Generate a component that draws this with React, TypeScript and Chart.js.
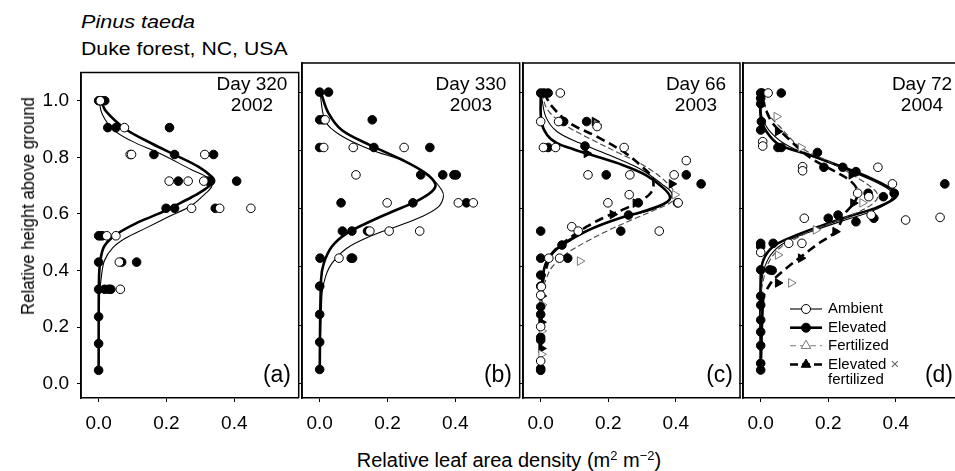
import React, { useEffect, useRef } from 'react';
import { Chart, registerables } from 'chart.js';
Chart.register(...registerables);

const FONT = '"Liberation Sans", Arial, Helvetica, sans-serif';

// ---- axes ----
const X_MIN = -0.052;
const X_MAX = 0.59;
const Y_MIN = -0.05;
const Y_MAX = 1.1;
const xTickValues = [0, 0.2, 0.4];
const yTickValues = [0, 0.2, 0.4, 0.6, 0.8, 1.0];

// ---- texts ----
const panelLabels = ['(a)', '(b)', '(c)', '(d)'];
const dayLabels = ['Day 320', 'Day 330', 'Day 66', 'Day 72'];
const yearLabels = ['2002', '2003', '2003', '2004'];
const legendLabels = ['Ambient', 'Elevated', 'Fertilized', 'Elevated', 'fertilized'];

// ---- panel (a) ----
const aAmbX = [0.005, 0.076, 0.093, 0.097, 0.313, 0.208, 0.264, 0.31, 0.274, 0.357, 0.449, 0.024, 0.051, 0.061, 0.064];
const aAmbH = [1.0, 0.905, 0.81, 0.81, 0.81, 0.716, 0.716, 0.716, 0.62, 0.62, 0.62, 0.523, 0.523, 0.43, 0.334];
const aElvX = [0, 0.01, 0.018, 0.027, 0.051, 0.209, 0.163, 0.224, 0.339, 0.235, 0.323, 0.33, 0.407, 0.199, 0.224, 0.344, 0, 0.005, 0.011, 0, 0.068, 0.112, 0, 0.018, 0.03, 0.036, 0, 0, 0];
const aElvH = [1, 1, 1, 0.905, 0.905, 0.905, 0.81, 0.81, 0.81, 0.716, 0.716, 0.716, 0.716, 0.62, 0.62, 0.62, 0.523, 0.523, 0.523, 0.43, 0.43, 0.43, 0.334, 0.334, 0.334, 0.334, 0.237, 0.142, 0.048];
const aAmbCurveX = [0.001, 0.011, 0.042, 0.095, 0.187, 0.274, 0.323, 0.334, 0.313, 0.274, 0.206, 0.139, 0.08, 0.042, 0.017, 0.008, 0.002, 0, 0];
const aAmbCurveH = [1.0, 0.951, 0.899, 0.859, 0.81, 0.756, 0.727, 0.699, 0.67, 0.63, 0.59, 0.55, 0.515, 0.481, 0.435, 0.378, 0.309, 0.2, 0.048];
const aElvCurveX = [0.008, 0.022, 0.08, 0.158, 0.226, 0.294, 0.332, 0.34, 0.313, 0.274, 0.226, 0.177, 0.11, 0.051, 0.017, 0.005, 0.001, 0];
const aElvCurveH = [0.997, 0.962, 0.899, 0.848, 0.808, 0.767, 0.733, 0.716, 0.687, 0.659, 0.63, 0.601, 0.567, 0.527, 0.487, 0.435, 0.366, 0.048];

// ---- panel (b) ----
const bAmbX = [0.016, 0.012, 0.099, 0.249, 0.107, 0.199, 0.409, 0.453, 0.148, 0.205, 0.295, 0.057];
const bAmbH = [0.905, 0.81, 0.81, 0.81, 0.716, 0.62, 0.62, 0.62, 0.523, 0.523, 0.523, 0.43];
const bElvX = [0, 0.026, 0, 0.01, 0.155, 0, 0.16, 0.325, 0.298, 0.363, 0.396, 0.403, 0.063, 0.275, 0.433, 0.067, 0.095, 0.141, 0.001, 0.093, 0.097, 0, 0, 0, 0];
const bElvH = [1, 1, 0.905, 0.905, 0.905, 0.81, 0.81, 0.81, 0.716, 0.716, 0.716, 0.716, 0.62, 0.62, 0.62, 0.523, 0.523, 0.523, 0.43, 0.43, 0.43, 0.334, 0.237, 0.142, 0.048];
const bAmbCurveX = [0.001, 0.017, 0.06, 0.147, 0.264, 0.331, 0.36, 0.365, 0.351, 0.302, 0.225, 0.147, 0.08, 0.036, 0.017, 0.007, 0];
const bAmbCurveH = [0.997, 0.899, 0.853, 0.804, 0.756, 0.704, 0.664, 0.641, 0.607, 0.573, 0.538, 0.504, 0.464, 0.412, 0.366, 0.309, 0.048];
const bElvCurveX = [0.004, 0.026, 0.065, 0.147, 0.244, 0.312, 0.341, 0.331, 0.283, 0.215, 0.147, 0.08, 0.036, 0.012, 0.004, 0];
const bElvCurveH = [0.997, 0.928, 0.87, 0.819, 0.767, 0.722, 0.685, 0.659, 0.624, 0.59, 0.555, 0.515, 0.47, 0.412, 0.355, 0.048];

// ---- panel (c) ----
const cAmbX = [0.058, 0, 0.053, 0.167, 0.008, 0.044, 0.247, 0.431, 0.14, 0.264, 0.395, 0.262, 0.199, 0.407, 0.092, 0.111, 0.351, 0.024, 0.056, 0.002, 0, 0, 0];
const cAmbH = [0.997, 0.899, 0.899, 0.882, 0.81, 0.81, 0.81, 0.765, 0.716, 0.716, 0.716, 0.648, 0.62, 0.62, 0.538, 0.523, 0.523, 0.43, 0.43, 0.332, 0.303, 0.195, 0.077];
const cElvX = [0, 0.01, 0.022, 0.068, 0.136, 0.022, 0.131, 0.194, 0.431, 0.475, 0.405, 0.289, 0.26, 0.237, 0, 0.063, 0, 0.08, 0, 0, 0, 0, 0, 0, 0, 0];
const cElvH = [0.997, 0.997, 0.997, 0.899, 0.899, 0.81, 0.815, 0.716, 0.716, 0.685, 0.62, 0.62, 0.578, 0.523, 0.523, 0.475, 0.43, 0.43, 0.372, 0.334, 0.263, 0.237, 0.158, 0.149, 0.051, 0.045];
const cFerX = [0.166, 0.397, 0.116, 0.004, 0.003, 0.002];
const cFerH = [0.888, 0.648, 0.42, 0.27, 0.18, 0.1];
const cEfX = [0.16, 0.136, 0.388, 0.281, 0.213, 0.003, 0.002, 0.002];
const cEfH = [0.899, 0.79, 0.685, 0.619, 0.58, 0.3, 0.21, 0.12];
const cAmbCurveX = [0.001, 0.015, 0.048, 0.116, 0.213, 0.3, 0.358, 0.388, 0.378, 0.329, 0.252, 0.174, 0.107, 0.058, 0.024, 0.01, 0.002, 0];
const cAmbCurveH = [0.997, 0.916, 0.865, 0.825, 0.779, 0.733, 0.685, 0.653, 0.624, 0.596, 0.573, 0.544, 0.51, 0.475, 0.435, 0.389, 0.332, 0.045];
const cElvCurveX = [0, 0.002, 0.019, 0.048, 0.097, 0.165, 0.242, 0.31, 0.358, 0.383, 0.368, 0.31, 0.233, 0.155, 0.087, 0.044, 0.015, 0.005, 0, 0];
const cElvCurveH = [0.997, 0.899, 0.853, 0.825, 0.804, 0.779, 0.75, 0.716, 0.676, 0.641, 0.619, 0.593, 0.567, 0.533, 0.492, 0.458, 0.412, 0.355, 0.309, 0.045];
const cFerCurveX = [0.003, 0.02, 0.068, 0.146, 0.233, 0.31, 0.368, 0.397, 0.388, 0.339, 0.271, 0.203, 0.136, 0.078, 0.034, 0.015, 0.005, 0];
const cFerCurveH = [0.997, 0.94, 0.89, 0.84, 0.79, 0.745, 0.695, 0.653, 0.624, 0.596, 0.562, 0.527, 0.487, 0.447, 0.4, 0.355, 0.309, 0.045];
const cEfCurveX = [0.01, 0.034, 0.087, 0.165, 0.252, 0.3, 0.329, 0.334, 0.325, 0.3, 0.252, 0.194, 0.136, 0.078, 0.034, 0.015, 0.005, 0];
const cEfCurveH = [0.997, 0.95, 0.893, 0.848, 0.79, 0.744, 0.71, 0.681, 0.653, 0.63, 0.601, 0.573, 0.538, 0.492, 0.447, 0.389, 0.332, 0.045];

// ---- panel (d) ----
const dAmbX = [0.022, 0.006, 0.006, 0.124, 0.124, 0.347, 0.39, 0.287, 0.32, 0.327, 0.129, 0.429, 0.531, 0.083, 0.122, 0.0];
const dAmbH = [0.997, 0.83, 0.815, 0.744, 0.73, 0.742, 0.685, 0.653, 0.641, 0.578, 0.567, 0.561, 0.57, 0.481, 0.481, 0.45];
const dElvX = [0, 0.004, 0.061, 0, 0, 0.002, 0, 0.051, 0.061, 0.168, 0.187, 0.243, 0.282, 0.545, 0.318, 0.363, 0.395, 0.229, 0.2, 0.282, 0.335, 0, 0, 0.037, 0, 0.027, 0.034, 0, 0, 0, 0, 0, 0, 0];
const dElvH = [0.997, 0.997, 0.997, 0.979, 0.96, 0.899, 0.87, 0.81, 0.81, 0.793, 0.742, 0.742, 0.727, 0.685, 0.653, 0.641, 0.653, 0.578, 0.567, 0.555, 0.567, 0.481, 0.47, 0.481, 0.39, 0.39, 0.388, 0.3, 0.269, 0.218, 0.177, 0.13, 0.069, 0.046];
const dFerX = [0.047, 0.119, 0.301, 0.163, 0.051, 0.09];
const dFerH = [0.916, 0.81, 0.62, 0.527, 0.441, 0.345];
const dEfX = [0.051, 0.269, 0.274, 0.221, 0.119, 0.051];
const dEfH = [0.865, 0.716, 0.619, 0.521, 0.43, 0.345];
const dAmbCurveX = [0, 0.004, 0.032, 0.085, 0.182, 0.279, 0.356, 0.39, 0.381, 0.327, 0.25, 0.163, 0.085, 0.037, 0.012, 0.002, 0];
const dAmbCurveH = [0.997, 0.916, 0.859, 0.813, 0.767, 0.722, 0.682, 0.653, 0.624, 0.59, 0.561, 0.527, 0.492, 0.452, 0.4, 0.332, 0.045];
const dElvCurveX = [0, 0, 0.017, 0.056, 0.143, 0.24, 0.327, 0.385, 0.405, 0.39, 0.337, 0.26, 0.172, 0.095, 0.037, 0.008, 0, 0];
const dElvCurveH = [0.997, 0.916, 0.865, 0.819, 0.785, 0.744, 0.704, 0.67, 0.653, 0.63, 0.601, 0.573, 0.538, 0.504, 0.47, 0.424, 0.366, 0.045];
const dFerCurveX = [0.002, 0.022, 0.056, 0.119, 0.211, 0.289, 0.337, 0.347, 0.327, 0.269, 0.192, 0.115, 0.056, 0.022, 0.008, 0.002, 0];
const dFerCurveH = [0.997, 0.927, 0.882, 0.81, 0.756, 0.704, 0.664, 0.641, 0.613, 0.578, 0.544, 0.504, 0.464, 0.412, 0.355, 0.309, 0.045];
const dEfCurveX = [0.002, 0.032, 0.076, 0.143, 0.221, 0.269, 0.287, 0.279, 0.25, 0.221, 0.172, 0.119, 0.076, 0.037, 0.017, 0.008, 0];
const dEfCurveH = [0.98, 0.899, 0.847, 0.778, 0.727, 0.692, 0.659, 0.624, 0.584, 0.521, 0.481, 0.435, 0.395, 0.355, 0.32, 0.297, 0.045];

// ---- layout (page px) ----
const PANEL_LEFTS = [81, 302, 523, 743];
const PANEL_W = 221;
const PANEL_TOP = 63;
const PANEL_H = 335;
const PAD_T = 10;
const PAD_R = 2;
const X_AXIS_H = 45;
const FER_GRAY = '#777';

const pts = (xs: number[], hs: number[]) => xs.map((x, i) => ({ x, y: hs[i] }));

const ambPts = (xs: number[], hs: number[]) => ({
  data: pts(xs, hs), showLine: false, pointStyle: 'circle', pointRadius: 4.3,
  pointBackgroundColor: '#fff', pointBorderColor: '#000', pointBorderWidth: 1,
});
const elvPts = (xs: number[], hs: number[]) => ({
  data: pts(xs, hs), showLine: false, pointStyle: 'circle', pointRadius: 4.3,
  pointBackgroundColor: '#000', pointBorderColor: '#000', pointBorderWidth: 1,
});
const ferPts = (xs: number[], hs: number[]) => ({
  data: pts(xs, hs), showLine: false, pointStyle: 'triangle', pointRotation: 90, pointRadius: 5,
  pointBackgroundColor: '#fff', pointBorderColor: FER_GRAY, pointBorderWidth: 1,
});
const efPts = (xs: number[], hs: number[]) => ({
  data: pts(xs, hs), showLine: false, pointStyle: 'triangle', pointRotation: 90, pointRadius: 5,
  pointBackgroundColor: '#000', pointBorderColor: '#000', pointBorderWidth: 1,
});
const curve = (xs: number[], hs: number[], width: number, color: string, dash: number[]) => ({
  data: pts(xs, hs), showLine: true, pointRadius: 0, borderColor: color, borderWidth: width,
  borderDash: dash, tension: 0.35, fill: false,
});

const panelDatasets = [
  [
    ambPts(aAmbX, aAmbH), elvPts(aElvX, aElvH),
    curve(aElvCurveX, aElvCurveH, 2.6, '#000', []), curve(aAmbCurveX, aAmbCurveH, 1.1, '#000', []),
  ],
  [
    ambPts(bAmbX, bAmbH), elvPts(bElvX, bElvH),
    curve(bElvCurveX, bElvCurveH, 2.6, '#000', []), curve(bAmbCurveX, bAmbCurveH, 1.1, '#000', []),
  ],
  [
    ambPts(cAmbX, cAmbH), elvPts(cElvX, cElvH), ferPts(cFerX, cFerH), efPts(cEfX, cEfH),
    curve(cEfCurveX, cEfCurveH, 2.6, '#000', [9, 5]), curve(cFerCurveX, cFerCurveH, 1.1, '#444', [6, 3]),
    curve(cElvCurveX, cElvCurveH, 2.6, '#000', []), curve(cAmbCurveX, cAmbCurveH, 1.1, '#000', []),
  ],
  [
    ambPts(dAmbX, dAmbH), elvPts(dElvX, dElvH), ferPts(dFerX, dFerH), efPts(dEfX, dEfH),
    curve(dEfCurveX, dEfCurveH, 2.6, '#000', [9, 5]), curve(dFerCurveX, dFerCurveH, 1.1, '#444', [6, 3]),
    curve(dElvCurveX, dElvCurveH, 2.6, '#000', []), curve(dAmbCurveX, dAmbCurveH, 1.1, '#000', []),
  ],
];

const framePlugin = {
  id: 'frame',
  afterDraw(chart: any) {
    const { ctx, chartArea } = chart;
    const { left, top, right, bottom } = chartArea;
    ctx.save();
    ctx.strokeStyle = '#000';
    ctx.lineWidth = 1.5;
    ctx.beginPath();
    ctx.moveTo(left, bottom);
    ctx.lineTo(left, top);
    ctx.lineTo(right, top);
    ctx.lineTo(right, bottom);
    ctx.stroke();
    ctx.restore();
  },
};

function drawMarker(ctx: CanvasRenderingContext2D, kind: string, x: number, y: number) {
  ctx.save();
  ctx.setLineDash([]);
  ctx.lineWidth = 1;
  if (kind === 'amb' || kind === 'elv') {
    ctx.beginPath();
    ctx.arc(x, y, 4.5, 0, Math.PI * 2);
    ctx.fillStyle = kind === 'amb' ? '#fff' : '#000';
    ctx.strokeStyle = '#000';
    ctx.fill();
    ctx.stroke();
  } else {
    const r = 5.5;
    ctx.beginPath();
    ctx.moveTo(x, y - r);
    ctx.lineTo(x + r * 0.866, y + r * 0.5);
    ctx.lineTo(x - r * 0.866, y + r * 0.5);
    ctx.closePath();
    ctx.fillStyle = kind === 'fer' ? '#fff' : '#000';
    ctx.strokeStyle = kind === 'fer' ? FER_GRAY : '#000';
    ctx.fill();
    ctx.stroke();
  }
  ctx.restore();
}

const legendPlugin = {
  id: 'insetLegend',
  afterDraw(chart: any) {
    const ctx: CanvasRenderingContext2D = chart.ctx;
    const offX = PANEL_LEFTS[3] - 6;
    const offY = PANEL_TOP - PAD_T;
    const rows = [
      { kind: 'amb', y: 309, w: 1.1, color: '#000', dash: [] as number[], label: legendLabels[0] },
      { kind: 'elv', y: 327.7, w: 2.6, color: '#000', dash: [] as number[], label: legendLabels[1] },
      { kind: 'fer', y: 345.7, w: 1.1, color: FER_GRAY, dash: [6, 4], label: legendLabels[2] },
      { kind: 'ef', y: 364.5, w: 2.6, color: '#000', dash: [8, 4], label: legendLabels[3] },
    ];
    ctx.save();
    ctx.font = `15px ${FONT}`;
    ctx.textBaseline = 'middle';
    ctx.textAlign = 'left';
    rows.forEach((r) => {
      const y = r.y - offY;
      ctx.save();
      ctx.strokeStyle = r.color;
      ctx.lineWidth = r.w;
      ctx.setLineDash(r.dash);
      ctx.beginPath();
      ctx.moveTo(790 - offX, y);
      ctx.lineTo(822 - offX, y);
      ctx.stroke();
      ctx.restore();
      drawMarker(ctx, r.kind, 806 - offX, y);
      ctx.fillStyle = '#000';
      ctx.fillText(r.label, 828 - offX, y);
      if (r.kind === 'ef') {
        const w = ctx.measureText(r.label + ' ').width;
        ctx.fillStyle = '#666';
        ctx.fillText('\u00d7', 828 - offX + w, y);
        ctx.fillStyle = '#000';
        ctx.fillText(legendLabels[4], 828 - offX, 380 - offY);
      }
    });
    ctx.restore();
  },
};

function Panel({ idx }: { idx: number }) {
  const ref = useRef<HTMLCanvasElement>(null);
  const showY = idx === 0;
  const axisW = showY ? 50 : 6;
  const w = axisW + PANEL_W + PAD_R;
  const h = PAD_T + PANEL_H + X_AXIS_H;
  useEffect(() => {
    if (!ref.current) return;
    const chart = new Chart(ref.current, {
      type: 'scatter',
      data: { datasets: panelDatasets[idx] as any },
      options: {
        animation: false,
        responsive: false,
        maintainAspectRatio: false,
        layout: { padding: { top: PAD_T, right: PAD_R, left: 0, bottom: 0 } },
        plugins: { legend: { display: false }, tooltip: { enabled: false }, title: { display: false } },
        scales: {
          x: {
            type: 'linear', min: X_MIN, max: X_MAX,
            afterBuildTicks: (s: any) => { s.ticks = xTickValues.map((v) => ({ value: v })); },
            afterFit: (s: any) => { s.height = X_AXIS_H; },
            ticks: { font: { family: FONT, size: 19 }, color: '#000', padding: 10, maxRotation: 0, callback: (v: any) => Number(v).toFixed(1) },
            grid: { display: true, drawOnChartArea: false, drawTicks: true, tickLength: 4, color: '#000', lineWidth: 1 },
            border: { display: true, color: '#000', width: 1.5 },
          },
          y: {
            type: 'linear', min: Y_MIN, max: Y_MAX,
            afterBuildTicks: (s: any) => { s.ticks = yTickValues.map((v) => ({ value: v })); },
            afterFit: (s: any) => { s.width = axisW; },
            ticks: { display: showY, font: { family: FONT, size: 19 }, color: '#000', padding: 8, callback: (v: any) => Number(v).toFixed(1) },
            grid: { display: true, drawOnChartArea: false, drawTicks: true, tickLength: 4, color: '#000', lineWidth: 1 },
            border: { display: true, color: '#000', width: 1.5 },
          },
        },
      } as any,
      plugins: idx === 3 ? [framePlugin, legendPlugin] : [framePlugin],
    });
    return () => chart.destroy();
  }, []);
  return (
    <canvas
      ref={ref}
      width={w}
      height={h}
      style={{ position: 'absolute', left: PANEL_LEFTS[idx] - axisW, top: PANEL_TOP - PAD_T, width: w, height: h }}
    />
  );
}

const dayCenters = [252, 471, 696, 922];

export default function App() {
  return (
    <div style={{ position: 'fixed', left: 0, top: 0, width: 955, height: 471, overflow: 'hidden', background: '#fff', fontFamily: FONT, color: '#000' }}>
      <div style={{ position: 'absolute', left: 81, top: 13, fontSize: 18, lineHeight: '18px', fontStyle: 'italic', whiteSpace: 'nowrap', transform: 'scaleX(1.2)', transformOrigin: 'left center' }}>Pinus taeda</div>
      <div style={{ position: 'absolute', left: 81, top: 40, fontSize: 18, lineHeight: '18px', whiteSpace: 'nowrap', transform: 'scaleX(1.18)', transformOrigin: 'left center' }}>Duke forest, NC, USA</div>
      {[0, 1, 2, 3].map((i) => <Panel key={i} idx={i} />)}
      {[0, 1, 2, 3].map((i) => (
        <div key={'d' + i} style={{ position: 'absolute', left: dayCenters[i] - 60, top: 73, width: 120, textAlign: 'center', fontSize: 19, lineHeight: '21px' }}>
          {dayLabels[i]}<br />{yearLabels[i]}
        </div>
      ))}
      {[0, 1, 2, 3].map((i) => (
        <div key={'p' + i} style={{ position: 'absolute', left: PANEL_LEFTS[i] + PANEL_W - 11 - 60, top: 362.5, width: 60, textAlign: 'right', fontSize: 23, lineHeight: '23px' }}>
          {panelLabels[i]}
        </div>
      ))}
      <div style={{ position: 'absolute', left: 28.1 - 150, top: 206 - 9, width: 300, height: 18, textAlign: 'center', fontSize: 18, lineHeight: '18px', whiteSpace: 'nowrap', transform: 'rotate(-90deg) scaleX(0.93)', transformOrigin: 'center center' }}>
        Relative height above ground
      </div>
      <div style={{ position: 'absolute', left: 509 - 250, top: 450, width: 500, textAlign: 'center', fontSize: 20, lineHeight: '20px', whiteSpace: 'nowrap' }}>
        Relative leaf area density (m<span style={{ fontSize: '0.65em', position: 'relative', top: '-0.55em' }}>2</span> m<span style={{ fontSize: '0.65em', position: 'relative', top: '-0.55em' }}>{'\u22122'}</span>)
      </div>
    </div>
  );
}
